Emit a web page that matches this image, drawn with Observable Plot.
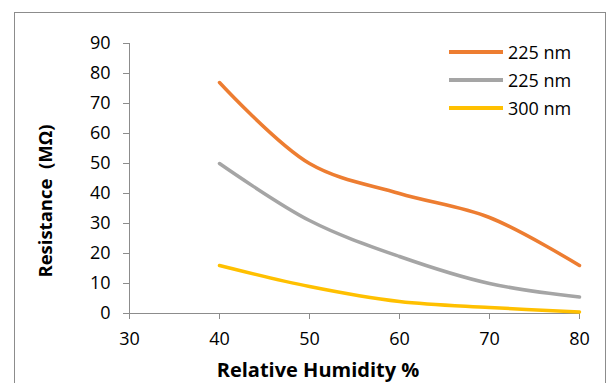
<!DOCTYPE html>
<html>
<head>
<meta charset="utf-8">
<script src="https://cdn.jsdelivr.net/npm/d3@7"></script>
<script src="https://cdn.jsdelivr.net/npm/@observablehq/plot@0.6"></script>
<style>
  html, body { margin: 0; padding: 0; background: #fff; }
  body { width: 606px; height: 383px; overflow: hidden; position: relative; font-family: "Open Sans", sans-serif; }
  #frame { position: absolute; left: 14px; top: 12px; width: 590px; height: 400px; border: 1px solid #8c8c8c; border-bottom: none; }
  #chart { position: absolute; left: 0; top: 0; }
  .title { position: absolute; font-weight: bold; color: #000; white-space: nowrap; line-height: normal; }
  #xtitle { left: 318px; top: 356px; font-size: 20px; transform: translateX(-50%); }
  #ytitle { left: 44px; top: 201px; font-size: 18.5px; transform: translate(-50%, -50%) rotate(-90deg); }
  #legend { position: absolute; left: 449px; top: 38px; font-size: 18px; }
  .item { display: flex; align-items: center; height: 28px; }
  .swatch { width: 54px; height: 3.5px; margin-right: 5px; }
</style>
</head>
<body>
<div id="frame"></div>
<div id="chart"></div>
<div class="title" id="xtitle">Relative Humidity %</div>
<div class="title" id="ytitle">Resistance&nbsp; (MΩ)</div>
<div id="legend"></div>
<script>
const humidity = [40, 50, 60, 70, 80];
const seriesNames = ["225 nm", "225 nm ", "300 nm"];
const seriesLabels = ["225 nm", "225 nm", "300 nm"];
const seriesColors = ["#ED7D31", "#A5A5A5", "#FFC000"];
const orange225 = [77, 50, 40, 32, 16];
const gray225 = [50, 31, 19, 10, 5.5];
const yellow300 = [16, 9, 4, 2, 0.5];
const xTicks = [30, 40, 50, 60, 70, 80];
const yTicks = [0, 10, 20, 30, 40, 50, 60, 70, 80, 90];

const allValues = [orange225, gray225, yellow300];
const rows = [];
allValues.forEach((vals, i) => vals.forEach((v, j) => rows.push({series: seriesNames[i], x: humidity[j], y: v})));

const chart = Plot.plot({
  width: 606,
  height: 383,
  marginLeft: 129,
  marginRight: 27,
  marginTop: 43,
  marginBottom: 70,
  style: {fontFamily: "Open Sans, sans-serif", fontSize: "18px", color: "#000", background: "transparent"},
  x: {domain: [30, 80]},
  y: {domain: [0, 90]},
  color: {domain: seriesNames, range: seriesColors},
  marks: [
    Plot.axisX({ticks: xTicks, tickSize: 6, tickPadding: 13, label: null, stroke: "#8c8c8c", color: "#000"}),
    Plot.axisY({ticks: yTicks, tickSize: 6, tickPadding: 13, label: null, stroke: "#8c8c8c", color: "#000"}),
    Plot.ruleY([0], {stroke: "#8c8c8c"}),
    Plot.ruleX([30], {stroke: "#8c8c8c"}),
    Plot.line(rows, {x: "x", y: "y", z: "series", stroke: "series", strokeWidth: 3.5, curve: "catmull-rom"})
  ]
});
document.getElementById("chart").appendChild(chart);

const legend = document.getElementById("legend");
seriesLabels.forEach((name, i) => {
  const item = document.createElement("div");
  item.className = "item";
  item.innerHTML = `<div class="swatch" style="background:${seriesColors[i]}"></div><span>${name}</span>`;
  legend.appendChild(item);
});
</script>
</body>
</html>
